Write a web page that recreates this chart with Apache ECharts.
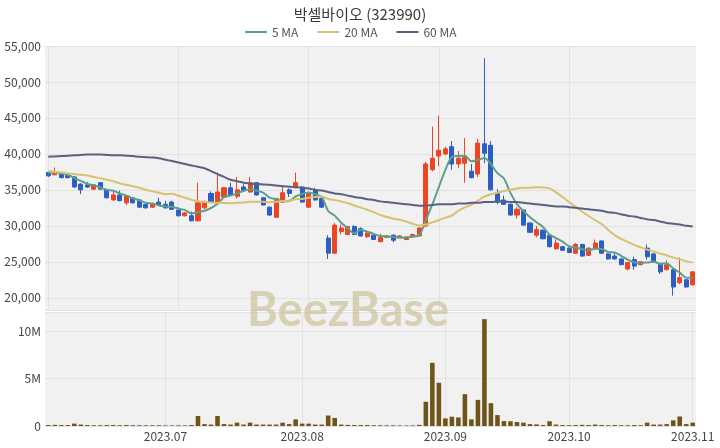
<!DOCTYPE html>
<html><head><meta charset="utf-8">
<script src="https://cdn.jsdelivr.net/npm/echarts@6/dist/echarts.min.js"></script>
<style>html,body{margin:0;padding:0;background:#fff}#c{width:720px;height:448px}</style>
</head><body><div id="c"></div>
<script>
const juneDays = [7,8,9,12,13,14,15,16,19,20,21,22,23,26,27,28,29,30];
const julyDays = [3,4,5,6,7,10,11,12,13,14,17,18,19,20,21,24,25,26,27,28,31];
const augDays  = [1,2,3,4,7,8,9,10,11,14,16,17,18,21,22,23,24,25,28,29,30,31];
const sepDays  = [1,4,5,6,7,8,11,12,13,14,15,18,19,20,21,22,25,26,27];
const octDays  = [4,5,6,10,11,12,13,16,17,18,19,20,23,24,25,26,27,30,31];
const novDays  = [1];

const openPrices = [37400,37100,37250,37050,36800,35800,35700,35100,36000,35000,
  33600,34300,33200,33900,33600,33000,32600,33300,33000,33300,
  32200,31400,31400,30700,32500,34500,33200,34000,35300,34100,
  35400,34700,36000,33900,32600,31200,33300,35000,35300,35400,
  32600,35000,33800,28300,26200,29200,28800,29900,29600,28500,
  28700,27800,28400,28700,28400,28100,28500,28600,30000,37800,
  39700,40000,41000,38600,38700,37600,37200,41400,41200,34600,
  33600,33000,31500,32200,30400,28700,29400,28700,26800,27100,
  26900,26200,27400,25900,26900,27900,26100,25800,25400,24000,
  25300,24600,26900,26100,24600,23900,23900,22100,22500,21800];
const closePrices = [36950,37500,36700,36700,35400,35000,35400,35700,35100,33900,
  34300,33500,34200,33200,32600,32500,33000,32900,32500,32300,
  31400,31800,30700,33200,33400,33300,34700,35300,34300,35000,
  34900,36000,34300,32900,31500,33800,34600,34500,36000,33300,
  34600,33600,32600,26200,30100,29700,29900,28800,28600,29000,
  28100,28400,28600,28000,28600,28400,28800,29700,38600,39400,
  40500,40700,38600,39400,39500,36700,41500,40100,35000,33300,
  33000,31500,32300,30100,29100,29500,28200,27100,27600,26600,
  26300,27400,25800,26900,27600,26200,25400,25400,24600,24900,
  24400,25000,25700,25000,23600,24600,21500,22800,21500,23600];
const lowPrices = [36800,37000,36600,36600,35300,34400,35300,35000,35000,33800,
  33500,33400,32900,33100,32500,32400,32500,32800,32400,32200,
  31300,31300,30600,30600,32300,33200,33100,33900,34200,33800,
  34800,34600,34200,32800,31400,31100,33200,34000,35200,33200,
  32500,33500,32500,25400,26100,28800,28700,28700,28500,28300,
  28000,27700,28300,27700,28300,28000,28400,28500,29800,37600,
  38300,39800,37800,38000,36000,36600,36800,38700,34900,33000,
  32900,31400,31000,30000,29000,28400,28100,27000,26700,26500,
  26200,26100,25700,25800,26800,26100,25300,25300,24500,23800,
  23900,24500,25300,24900,23300,23800,20300,21900,21400,21700];
const highPrices = [37500,38100,37300,37100,36900,35900,36100,35800,36100,35100,
  34700,34900,34300,34000,33700,33100,33200,33900,33500,33500,
  32300,31900,32000,36000,33500,34800,37400,35400,36000,36800,
  35800,36800,36100,34000,32700,33900,35400,35200,37400,35500,
  34800,35300,33900,28700,30400,30200,30000,30100,29800,29200,
  28800,28900,28700,28800,28700,28500,28900,29800,38900,43800,
  45300,41000,41800,40400,42200,38600,42100,53300,41800,35100,
  34200,33100,32600,32300,30500,30000,29500,28800,28100,27200,
  27000,27600,27500,27000,28100,28000,26200,26200,25500,25000,
  25700,25100,27400,26200,24700,25200,24000,25600,22600,23700];
const volumes = [100000,120000,100000,100000,250000,150000,100000,80000,80000,100000,
  100000,80000,100000,80000,80000,70000,70000,80000,60000,60000,
  70000,60000,100000,1050000,200000,150000,1050000,200000,150000,350000,
  150000,350000,150000,150000,150000,150000,350000,200000,700000,250000,
  250000,150000,150000,1100000,850000,150000,120000,100000,100000,100000,
  80000,80000,70000,70000,60000,60000,60000,120000,2550000,6650000,
  4550000,800000,980000,900000,3350000,700000,2750000,11250000,2400000,1150000,
  520000,500000,420000,350000,200000,170000,100000,500000,150000,100000,
  80000,100000,120000,100000,150000,100000,80000,100000,80000,80000,
  100000,80000,350000,150000,150000,200000,600000,1000000,200000,350000];
const ma5Head = [37400,37400,37300,37100];
const ma20Head = [37600,37500,37400,37300,37200,37100,37000,36800,36600,36400,
  36200,35900,35700,35500,35300,35000,34800,34600,34400];
const ma60Values = [39600,39650,39700,39750,39800,39850,39900,39900,39900,39850,
  39800,39800,39750,39700,39600,39550,39500,39400,39200,39000,
  38800,38600,38400,38200,38000,37600,37200,36800,36400,36200,
  36000,35900,35800,35750,35700,35600,35500,35450,35400,35300,
  35200,35000,34900,34700,34500,34400,34200,34000,33900,33700,
  33600,33400,33300,33200,33100,33000,32900,32800,32800,32900,
  33000,33000,33000,33100,33100,33200,33200,33300,33300,33400,
  33400,33300,33300,33200,33100,33000,32900,32800,32700,32700,
  32600,32500,32400,32300,32200,32100,31900,31800,31600,31400,
  31300,31100,30900,30800,30600,30400,30300,30200,30000,29900];

const monthDays = [['2023-06',juneDays],['2023-07',julyDays],['2023-08',augDays],['2023-09',sepDays],['2023-10',octDays],['2023-11',novDays]];
const dates = [];
monthDays.forEach(([m, days]) => days.forEach(d => dates.push(m + '-' + String(d).padStart(2,'0'))));

const candleData = openPrices.map((o, i) => [o, closePrices[i], lowPrices[i], highPrices[i]]);
function movingAvg(n, head) {
  return closePrices.map((_, i) => {
    if (i < n - 1) return head[i];
    let s = 0; for (let k = i - n + 1; k <= i; k++) s += closePrices[k];
    return Math.round(s / n);
  });
}
const ma5 = movingAvg(5, ma5Head);
const ma20 = movingAvg(20, ma20Head);

const isMonthStart = (idx) => idx > 0 && dates[idx].slice(0,7) !== dates[idx-1].slice(0,7);

const FONT = 'Noto Sans CJK KR';
const UP = '#eb4524', DOWN = '#2b5fc4';
const chart = echarts.init(document.getElementById('c'), null, {renderer: 'canvas'});
chart.setOption({
  animation: false,
  textStyle: {fontFamily: FONT},
  title: {text: '박셀바이오 (323990)', left: 'center', top: 2,
    textStyle: {fontSize: 15, fontWeight: 'normal', color: '#3a3a3a', fontFamily: FONT}},
  legend: {top: 21, left: 240, icon: 'rect', itemWidth: 22, itemHeight: 2, itemGap: 19,
    textStyle: {fontSize: 12, color: '#555', fontFamily: FONT},
    data: ['5 MA', '20 MA', '60 MA']},
  graphic: [{type: 'text', left: 247, top: 287, z: 1, silent: true,
    style: {text: 'BeezBase', font: 'bold 47px Lato', fill: 'rgba(205,196,160,0.75)'}}],
  grid: [
    {left: 45, right: 24, top: 46, height: 264, show: true, backgroundColor: '#f1f1f1', borderWidth: 0},
    {left: 45, right: 24, top: 312, height: 114, show: true, backgroundColor: '#f1f1f1', borderWidth: 0}
  ],
  xAxis: [
    {type: 'category', gridIndex: 0, data: dates, boundaryGap: true,
     axisLine: {show: false}, axisTick: {show: false}, axisLabel: {show: false},
     splitLine: {show: true, interval: 19, alignWithLabel: true, lineStyle: {color: '#e2e2e2'}}},
    {type: 'category', gridIndex: 1, data: dates, boundaryGap: true,
     axisLine: {show: false}, axisTick: {show: false},
     axisLabel: {interval: (i) => isMonthStart(i), formatter: (v) => v.slice(0,7).replace('-', '.'),
       fontSize: 12, color: '#444', margin: 4, fontFamily: FONT},
     splitLine: {show: true, interval: (i) => isMonthStart(i), alignWithLabel: true, lineStyle: {color: '#e2e2e2'}}}
  ],
  yAxis: [
    {type: 'value', gridIndex: 0, min: 18300, max: 55000, splitNumber: 7,
     axisLine: {show: false}, axisTick: {show: false},
     axisLabel: {showMinLabel: false, fontSize: 12, color: '#444', margin: 4, fontFamily: FONT,
       formatter: (v) => v.toLocaleString('en-US')},
     splitLine: {lineStyle: {color: '#e2e2e2'}}},
    {type: 'value', gridIndex: 1, min: 0, max: 12000000, interval: 5000000,
     axisLine: {show: false}, axisTick: {show: false},
     axisLabel: {showMaxLabel: false, fontSize: 12, color: '#444', margin: 4, fontFamily: FONT,
       formatter: (v) => v === 0 ? '0' : (v / 1000000) + 'M'},
     splitLine: {lineStyle: {color: '#e2e2e2'}}}
  ],
  series: [
    {type: 'candlestick', name: 'price', xAxisIndex: 0, yAxisIndex: 0, data: candleData, barWidth: '70%', z: 3,
     itemStyle: {color: UP, color0: DOWN, borderColor: UP, borderColor0: DOWN, borderWidth: 1}},
    {type: 'line', name: '5 MA', xAxisIndex: 0, yAxisIndex: 0, data: ma5, symbol: 'none', smooth: 0.3, z: 4,
     lineStyle: {width: 2, color: '#5f9e8b'}, itemStyle: {color: '#5f9e8b'}},
    {type: 'line', name: '20 MA', xAxisIndex: 0, yAxisIndex: 0, data: ma20, symbol: 'none', smooth: 0.3, z: 4,
     lineStyle: {width: 2, color: '#d6c270'}, itemStyle: {color: '#d6c270'}},
    {type: 'line', name: '60 MA', xAxisIndex: 0, yAxisIndex: 0, data: ma60Values, symbol: 'none', smooth: 0.3, z: 4,
     lineStyle: {width: 2, color: '#5b607e'}, itemStyle: {color: '#5b607e'}},
    {type: 'bar', name: 'volume', xAxisIndex: 1, yAxisIndex: 1, data: volumes, barWidth: '70%', z: 3,
     itemStyle: {color: '#6e5418'}}
  ]
});
</script></body></html>
